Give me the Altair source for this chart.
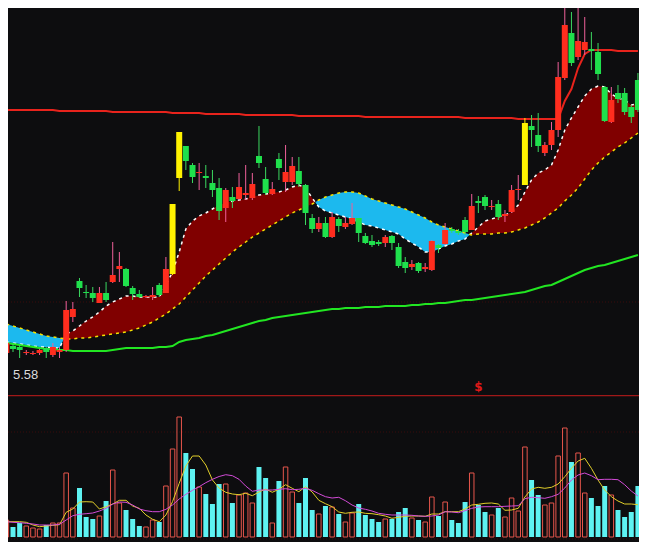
import altair as alt
import pandas as pd

# ---------------- data (index -1 .. 94) ----------------
idx = list(range(-1, 95))

open_ = [5.63, 5.70, 5.69, 5.63, 5.62, 5.63, 5.68, 5.61, 5.64, 5.66,
         5.99, 6.35, 6.24, 6.23, 6.13, 6.23, 6.34, 6.47, 6.47, 6.28,
         6.22, 6.19, 6.19, 6.31, 6.23, 6.42, 7.38, 7.70, 7.51, 7.43,
         7.40, 7.33, 7.28, 7.08, 7.19, 7.17, 7.21, 7.18, 7.60, 7.37,
         7.22, 7.57, 7.34, 7.34, 7.45, 7.31, 6.98, 6.87, 6.93, 6.79,
         6.97, 6.89, 6.92, 6.98, 6.80, 6.75, 6.74, 6.73, 6.80, 6.69,
         6.54, 6.49, 6.53, 6.47, 6.46, 6.71, 6.72, 6.87, 6.85, 6.96,
         6.86, 7.15, 7.19, 7.09, 7.12, 7.00, 7.04, 7.26, 7.31, 7.90,
         7.81, 7.63, 7.71, 7.86, 8.38, 8.83, 8.59, 8.66, 8.67, 8.64,
         8.29, 7.94, 8.23, 8.23, 8.09, 8.36]
high = [5.76, 5.72, 5.71, 5.66, 5.65, 5.67, 5.69, 5.73, 5.69, 6.15,
        6.14, 6.38, 6.31, 6.29, 6.29, 6.34, 6.74, 6.64, 6.48, 6.30,
        6.26, 6.21, 6.29, 6.33, 6.59, 7.12, 7.84, 7.70, 7.53, 7.53,
        7.51, 7.46, 7.38, 7.28, 7.29, 7.43, 7.51, 7.43, 7.90, 7.49,
        7.34, 7.63, 7.71, 7.59, 7.59, 7.32, 7.02, 6.99, 6.99, 7.04,
        6.99, 6.99, 7.13, 6.98, 6.83, 6.81, 6.76, 6.81, 6.81, 6.73,
        6.59, 6.56, 6.54, 6.53, 6.76, 6.72, 6.93, 6.89, 6.87, 6.99,
        7.22, 7.20, 7.21, 7.16, 7.16, 7.06, 7.31, 7.41, 7.98, 8.01,
        8.03, 7.74, 7.94, 8.54, 9.20, 9.04, 9.14, 8.99, 8.84, 8.73,
        8.30, 8.29, 8.31, 8.28, 8.11, 8.43]
low = [5.60, 5.64, 5.58, 5.61, 5.61, 5.61, 5.58, 5.59, 5.58, 5.64,
       5.94, 6.19, 6.18, 6.14, 6.13, 6.14, 6.33, 6.34, 6.29, 6.16,
       6.18, 6.18, 6.16, 6.19, 6.23, 6.41, 7.25, 7.46, 7.33, 7.26,
       7.28, 7.19, 6.96, 6.94, 7.08, 7.16, 7.16, 7.16, 7.48, 7.21,
       7.21, 7.36, 7.24, 7.31, 7.29, 6.91, 6.83, 6.84, 6.78, 6.78,
       6.84, 6.87, 6.91, 6.74, 6.72, 6.69, 6.70, 6.69, 6.66, 6.48,
       6.43, 6.46, 6.43, 6.44, 6.45, 6.63, 6.71, 6.83, 6.81, 6.81,
       6.86, 7.03, 7.06, 7.06, 6.96, 6.94, 7.03, 7.16, 7.31, 7.69,
       7.64, 7.60, 7.66, 7.79, 8.36, 8.50, 8.56, 8.61, 8.46, 8.36,
       7.94, 7.93, 8.13, 8.01, 7.93, 8.04]
close = [5.73, 5.67, 5.66, 5.64, 5.63, 5.66, 5.64, 5.69, 5.66, 6.06,
         6.07, 6.28, 6.23, 6.18, 6.23, 6.16, 6.41, 6.50, 6.30, 6.22,
         6.19, 6.20, 6.21, 6.21, 6.47, 7.12, 7.84, 7.55, 7.39, 7.44,
         7.38, 7.26, 7.05, 7.26, 7.15, 7.29, 7.23, 7.32, 7.53, 7.23,
         7.27, 7.48, 7.44, 7.50, 7.32, 7.03, 6.87, 6.93, 6.79, 6.99,
         6.90, 6.93, 6.98, 6.83, 6.73, 6.71, 6.72, 6.79, 6.73, 6.50,
         6.48, 6.52, 6.45, 6.49, 6.75, 6.68, 6.86, 6.85, 6.83, 6.84,
         7.10, 7.13, 7.10, 7.10, 6.99, 7.02, 7.26, 7.27, 7.93, 7.86,
         7.70, 7.71, 7.86, 8.39, 8.91, 8.53, 8.75, 8.74, 8.65, 8.42,
         7.95, 8.16, 8.17, 8.04, 7.99, 8.06]
volume = [1700, 1000, 1400, 1100, 900, 800, 1200, 1400, 1400, 6400,
          2900, 4900, 2000, 1800, 2100, 3600, 6700, 3400, 2700, 1800,
          1100, 1000, 1700, 1500, 5100, 8800, 12000, 8400, 6800, 5000,
          4300, 3300, 5300, 5300, 3400, 4200, 4400, 3400, 7000, 5900,
          1400, 5600, 7000, 4500, 3400, 5900, 2700, 2300, 3100, 3000,
          2300, 1500, 2400, 3300, 2200, 1800, 1500, 1800, 1800, 2500,
          2900, 1900, 1700, 1500, 4000, 2100, 3500, 1700, 1400, 3500,
          6400, 3200, 2500, 2200, 2900, 2000, 3900, 2600, 9000, 5700,
          4200, 3200, 3400, 8100, 10900, 7500, 8400, 4400, 3900, 3100,
          5100, 4200, 2700, 2000, 2500, 5100]
vol_ma5 = [1530, 1530, 1530, 1470, 1200, 1030, 1100, 1170, 1230, 2470,
           2800, 3500, 3530, 3500, 2800, 3030, 3300, 3670, 3670, 3100,
           2870, 2200, 1770, 1530, 2200, 3530, 5370, 7100, 8100, 8100,
           7200, 5700, 4900, 4470, 4300, 4230, 4370, 4130, 4500, 4800,
           4470, 4770, 5230, 4870, 4530, 5030, 4500, 3670, 3330, 3030,
           2500, 2370, 2470, 2500, 2370, 2330, 2230, 2100, 1870, 1970,
           2070, 2100, 2100, 2070, 2300, 2300, 2530, 2530, 2530, 2800,
           3200, 3270, 3370, 3400, 3300, 2670, 2700, 2870, 4000, 4800,
           4970, 4870, 4970, 5300, 6030, 6870, 7600, 7870, 6870, 5700,
           4700, 4030, 3600, 3300, 3300, 3230]
vol_ma10 = [1530, 1470, 1430, 1370, 1300, 1200, 1200, 1200, 1270, 1700,
            2130, 2270, 2330, 2400, 2600, 2870, 3300, 3500, 3470, 3200,
            2800, 2630, 2530, 2530, 2770, 3200, 3800, 4270, 4670, 5030,
            5430, 5770, 6050, 6230, 6130, 5770, 5100, 4570, 4700, 4700,
            4700, 4770, 4830, 4730, 4770, 4870, 4670, 4330, 4030, 3900,
            3970, 3630, 3200, 2900, 2770, 2600, 2370, 2270, 2200, 2200,
            2200, 2170, 2100, 2070, 2100, 2200, 2530, 2500, 2430, 2630,
            2870, 3000, 3030, 3030, 3030, 3070, 3100, 3130, 3830, 3970,
            3930, 3870, 4030, 4270, 4900, 5700, 6200, 6400, 6130, 5730,
            5770, 5770, 5730, 5230, 4600, 4100]
fast_line = [5.74, 5.73, 5.72, 5.71, 5.70, 5.69, 5.69, 5.68, 5.68, 5.82,
             5.85, 5.90, 5.95, 5.99, 6.04, 6.10, 6.14, 6.17, 6.20, 6.20,
             6.19, 6.19, 6.19, 6.19, 6.31, 6.44, 6.64, 6.87, 6.95, 7.00,
             7.03, 7.07, 7.11, 7.13, 7.15, 7.16, 7.17, 7.19, 7.21, 7.22,
             7.23, 7.24, 7.26, 7.29, 7.31, 7.28, 7.18, 7.09, 7.05, 7.03,
             7.01, 6.99, 6.97, 6.94, 6.91, 6.90, 6.88, 6.86, 6.84, 6.82,
             6.77, 6.73, 6.69, 6.64, 6.64, 6.67, 6.70, 6.72, 6.75, 6.77,
             6.83, 6.89, 6.95, 6.97, 6.99, 7.01, 7.04, 7.11, 7.24, 7.36,
             7.43, 7.46, 7.51, 7.66, 7.86, 7.98, 8.09, 8.20, 8.27, 8.30,
             8.29, 8.22, 8.18, 8.16, 8.11, 8.12]
slow_line = [5.92, 5.90, 5.88, 5.86, 5.84, 5.82, 5.80, 5.79, 5.78, 5.77,
             5.77, 5.78, 5.78, 5.79, 5.80, 5.81, 5.82, 5.83, 5.84, 5.86,
             5.88, 5.91, 5.94, 5.98, 6.02, 6.07, 6.12, 6.19, 6.26, 6.33,
             6.40, 6.46, 6.52, 6.58, 6.64, 6.69, 6.74, 6.79, 6.83, 6.87,
             6.91, 6.95, 6.99, 7.03, 7.06, 7.09, 7.12, 7.16, 7.19, 7.21,
             7.23, 7.24, 7.24, 7.23, 7.20, 7.17, 7.15, 7.13, 7.11, 7.09,
             7.07, 7.04, 7.01, 6.98, 6.94, 6.91, 6.89, 6.87, 6.85, 6.83,
             6.81, 6.82, 6.82, 6.82, 6.83, 6.83, 6.84, 6.86, 6.88, 6.91,
             6.94, 6.98, 7.03, 7.08, 7.15, 7.21, 7.28, 7.37, 7.46, 7.53,
             7.59, 7.64, 7.69, 7.73, 7.78, 7.83]
ma_green = [5.73, 5.72, 5.71, 5.70, 5.69, 5.68, 5.67, 5.67, 5.66, 5.66,
            5.65, 5.65, 5.65, 5.65, 5.65, 5.65, 5.66, 5.67, 5.68, 5.68,
            5.68, 5.68, 5.68, 5.69, 5.69, 5.70, 5.74, 5.76, 5.77, 5.78,
            5.80, 5.81, 5.83, 5.85, 5.87, 5.89, 5.91, 5.93, 5.95, 5.96,
            5.98, 5.99, 6.00, 6.01, 6.02, 6.03, 6.04, 6.05, 6.06, 6.07,
            6.07, 6.08, 6.08, 6.08, 6.09, 6.09, 6.09, 6.10, 6.10, 6.10,
            6.10, 6.11, 6.11, 6.12, 6.12, 6.13, 6.13, 6.14, 6.15, 6.16,
            6.16, 6.17, 6.18, 6.19, 6.20, 6.21, 6.22, 6.23, 6.24, 6.26,
            6.28, 6.30, 6.31, 6.34, 6.37, 6.40, 6.43, 6.46, 6.48, 6.50,
            6.51, 6.53, 6.55, 6.57, 6.59, 6.61]
ma_red = [8.06, 8.06, 8.06, 8.06, 8.06, 8.06, 8.06, 8.06, 8.05, 8.05,
          8.05, 8.05, 8.05, 8.05, 8.05, 8.05, 8.04, 8.04, 8.04, 8.04,
          8.04, 8.04, 8.04, 8.04, 8.04, 8.03, 8.03, 8.03, 8.03, 8.03,
          8.02, 8.02, 8.02, 8.02, 8.02, 8.02, 8.01, 8.01, 8.01, 8.01,
          8.01, 8.01, 8.01, 8.01, 8.00, 8.00, 8.00, 8.00, 8.00, 8.00,
          8.00, 8.00, 8.00, 8.00, 7.99, 7.99, 7.99, 7.99, 7.99, 7.99,
          7.99, 7.99, 7.99, 7.99, 7.99, 7.99, 7.99, 7.99, 7.99, 7.98,
          7.98, 7.98, 7.98, 7.98, 7.98, 7.98, 7.98, 7.97, 7.97, 7.97,
          7.97, 7.97, 7.97, 7.97, 8.15, 8.27, 8.48, 8.62, 8.66, 8.66,
          8.66, 8.66, 8.65, 8.65, 8.65, 8.65]
limit_up = [24, 25, 77]
signal_idx = [70]
grid_price = [6.14]
grid_vol = [10500, -200]

price_domain = [5.21, 9.08]
vol_domain = [-500, 14200]
x_domain = [0, 93.41]

W, H_TOP, H_BOT = 631, 387, 147

BG = "#0d0d0f"
UP, DOWN, LIMIT = "#ff2d1e", "#1fe04c", "#fff200"
UP_WICK, DOWN_WICK = "#f0609a", "#3cd860"

# ---------------- tables ----------------
kind = []
for k, i in enumerate(idx):
    if i in limit_up:
        kind.append("limit")
    elif close[k] >= open_[k]:
        kind.append("up")
    else:
        kind.append("down")

df = pd.DataFrame({
    "i": idx, "open": open_, "high": high, "low": low, "close": close,
    "vol": volume, "ma5": vol_ma5, "ma10": vol_ma10,
    "fast": fast_line, "slow": slow_line, "g": ma_green, "r": ma_red,
    "kind": kind,
})

# band segments: dark red where fast line is above slow line, cyan otherwise
segments = []
cur = []
prev = None
for k in range(len(idx)):
    s = "red" if fast_line[k] > slow_line[k] else "cyan"
    if prev is not None and s != prev:
        d0 = fast_line[k - 1] - slow_line[k - 1]
        d1 = fast_line[k] - slow_line[k]
        t = d0 / (d0 - d1)
        xc = idx[k - 1] + t
        yc = fast_line[k - 1] + t * (fast_line[k] - fast_line[k - 1])
        cur.append(dict(i=xc, top=yc, bot=yc))
        segments.append((prev, cur))
        cur = [dict(i=xc, top=yc, bot=yc)]
    cur.append(dict(i=idx[k], top=fast_line[k], bot=slow_line[k]))
    prev = s
segments.append((prev, cur))

xs = alt.Scale(domain=x_domain, nice=False, zero=False)
ps = alt.Scale(domain=price_domain, nice=False, zero=False)
vs = alt.Scale(domain=vol_domain, nice=False, zero=False)
X = alt.X("i:Q", scale=xs, axis=None)


def PY(field):
    return alt.Y(field, type="quantitative", scale=ps, axis=None)


def VY(field):
    return alt.Y(field, type="quantitative", scale=vs, axis=None)


base = alt.Chart(df)

# ---------------- price panel ----------------
layers = []
layers.append(alt.Chart(pd.DataFrame({"p": grid_price})).mark_rule(
    color="#3a0c0c", strokeDash=[1, 2], clip=True).encode(y=PY("p")))

for kind_name, pts in segments:
    col = "#800000" if kind_name == "red" else "#1cb9ee"
    layers.append(alt.Chart(pd.DataFrame(pts)).mark_area(
        orient="vertical", clip=True, color=col, opacity=1
    ).encode(x=X, y=alt.Y("top:Q", scale=ps, axis=None, stack=None), y2="bot:Q"))

layers.append(base.mark_line(color="#ffffff", strokeWidth=1.5, strokeDash=[3, 4], clip=True).encode(
    x=X, y=PY("fast")))
layers.append(base.mark_line(color="#f5e000", strokeWidth=1.5, strokeDash=[3, 4], clip=True).encode(
    x=X, y=PY("slow")))
layers.append(base.mark_line(color="#22e622", strokeWidth=2, clip=True).encode(x=X, y=PY("g")))
layers.append(base.mark_line(color="#e8231c", strokeWidth=2, clip=True).encode(x=X, y=PY("r")))

for kname, wcol, bcol in [("up", UP_WICK, UP), ("down", DOWN_WICK, DOWN), ("limit", LIMIT, LIMIT)]:
    sub = base.transform_filter(alt.datum.kind == kname)
    layers.append(sub.mark_rule(strokeWidth=1, color=wcol, clip=True).encode(
        x=X, y=PY("low"), y2=alt.Y2("high")))
    layers.append(sub.mark_bar(size=6, color=bcol, clip=True).encode(
        x=X, y=PY("open"), y2=alt.Y2("close")))

layers.append(alt.Chart(pd.DataFrame({"i": [x_domain[0]], "t": [f"{min(low):.2f}"], "p": [min(low)]})).mark_text(
    align="left", baseline="middle", dy=17, fontSize=13, font="Liberation Sans", color="#dcdcdc"
).encode(x=X, y=PY("p"), text="t:N"))

layers.append(alt.Chart(pd.DataFrame({"i": signal_idx, "p": [price_domain[0]] * len(signal_idx)})).mark_text(
    fontSize=12, fontWeight="bold", color="#e01818", baseline="bottom", dy=-1, font="DejaVu Sans"
).encode(x=X, y=PY("p"), text=alt.value("$")))

top = alt.layer(*layers).properties(width=W, height=H_TOP)

# ---------------- volume panel ----------------
sep = alt.Chart(pd.DataFrame({"v": [vol_domain[1]]})).mark_rule(
    color="#a01818", strokeWidth=2.5, clip=True).encode(y=VY("v"))
grid_bot = alt.Chart(pd.DataFrame({"v": grid_vol})).mark_rule(
    color="#3a0c0c", strokeDash=[1, 2], clip=True).encode(y=VY("v"))
vol_down = base.transform_filter(alt.datum.kind == "down").mark_bar(
    size=5, color="#5ef2f2", clip=True).encode(x=X, y=VY("vol"))
vol_up = base.transform_filter(alt.datum.kind != "down").mark_bar(
    size=4.5, fill=BG, fillOpacity=0, stroke="#e8564c", strokeWidth=1, clip=True
).encode(x=X, y=VY("vol"))
ma5_line = base.mark_line(color="#e2cf2a", strokeWidth=1, clip=True).encode(x=X, y=VY("ma5"))
ma10_line = base.mark_line(color="#d34bd8", strokeWidth=1, clip=True).encode(x=X, y=VY("ma10"))

bottom = alt.layer(sep, grid_bot, vol_down, vol_up, ma5_line, ma10_line).properties(width=W, height=H_BOT)

chart = alt.vconcat(top, bottom, spacing=0).configure_view(stroke=None).properties(
    background=BG, padding=0)

chart.save("out.html", embed_options={"renderer": "svg", "actions": False})
